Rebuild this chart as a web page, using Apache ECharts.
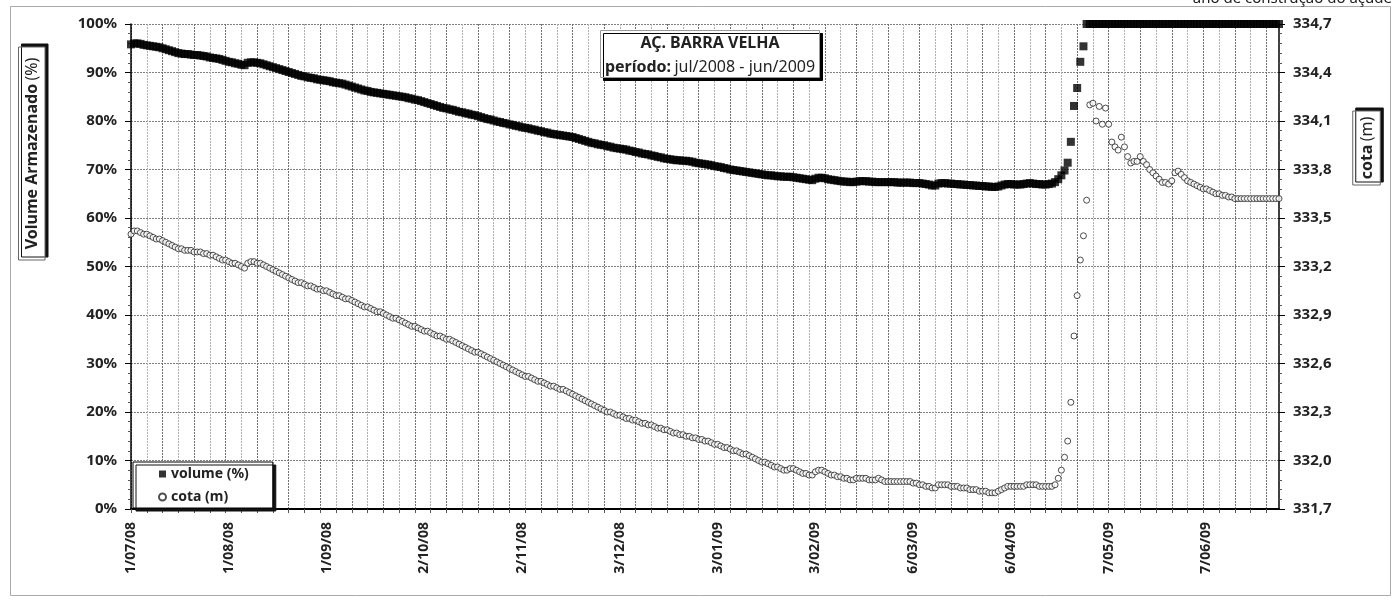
<!DOCTYPE html>
<html>
<head>
<meta charset="utf-8">
<title>AÇ. BARRA VELHA</title>
<script src="https://cdn.jsdelivr.net/npm/echarts@6/dist/echarts.min.js"></script>
<style>
    html, body {margin: 0; padding: 0; background: #fff;}
    #echartdiv {width: 1396px; height: 601px;}
</style>
</head>
<body>
<div id="echartdiv"></div>
<script>
// leituras diarias 1/07/2008 .. 30/06/2009 (365 dias)
var dt_start = [2008, 6, 1];

// cota (m)
var pCota = [
    333.40, 333.42, 333.42, 333.41, 333.40, 333.40, 333.39, 333.38, 333.37, 333.37,
    333.36, 333.35, 333.34, 333.33, 333.32, 333.31, 333.31, 333.30, 333.30, 333.30,
    333.29, 333.29, 333.29, 333.28, 333.28, 333.27, 333.27, 333.26, 333.25, 333.24,
    333.24, 333.23, 333.22, 333.22, 333.21, 333.20, 333.19, 333.22, 333.23, 333.23,
    333.22, 333.22, 333.21, 333.20, 333.19, 333.18, 333.17, 333.16, 333.15, 333.14,
    333.13, 333.12, 333.11, 333.10, 333.10, 333.09, 333.08, 333.08, 333.07, 333.06,
    333.06, 333.05, 333.05, 333.04, 333.03, 333.02, 333.02, 333.01, 333.00, 333.00,
    332.99, 332.98, 332.97, 332.96, 332.95, 332.95, 332.94, 332.93, 332.92, 332.92,
    332.91, 332.90, 332.89, 332.88, 332.88, 332.87, 332.86, 332.85, 332.84, 332.83,
    332.83, 332.82, 332.81, 332.80, 332.80, 332.79, 332.78, 332.77, 332.77, 332.76,
    332.75, 332.75, 332.74, 332.73, 332.72, 332.71, 332.70, 332.69, 332.68, 332.67,
    332.67, 332.66, 332.65, 332.64, 332.63, 332.62, 332.61, 332.60, 332.59, 332.58,
    332.57, 332.56, 332.55, 332.54, 332.53, 332.52, 332.52, 332.51, 332.50, 332.49,
    332.49, 332.48, 332.47, 332.46, 332.46, 332.45, 332.44, 332.44, 332.43, 332.42,
    332.41, 332.40, 332.39, 332.38, 332.37, 332.36, 332.35, 332.34, 332.33, 332.32,
    332.31, 332.30, 332.30, 332.29, 332.28, 332.28, 332.27, 332.26, 332.26, 332.25,
    332.25, 332.24, 332.23, 332.23, 332.22, 332.22, 332.21, 332.20, 332.20, 332.19,
    332.19, 332.18, 332.17, 332.17, 332.16, 332.16, 332.15, 332.15, 332.14, 332.14,
    332.13, 332.13, 332.12, 332.12, 332.11, 332.10, 332.10, 332.09, 332.08, 332.08,
    332.07, 332.06, 332.06, 332.05, 332.04, 332.04, 332.03, 332.02, 332.01, 332.00,
    331.99, 331.99, 331.98, 331.97, 331.96, 331.96, 331.95, 331.94, 331.94, 331.95,
    331.95, 331.94, 331.93, 331.92, 331.92, 331.91, 331.91, 331.93, 331.94, 331.94,
    331.93, 331.92, 331.91, 331.91, 331.90, 331.90, 331.89, 331.89, 331.88, 331.88,
    331.89, 331.89, 331.89, 331.89, 331.88, 331.88, 331.88, 331.89, 331.88, 331.87,
    331.87, 331.87, 331.87, 331.87, 331.87, 331.87, 331.87, 331.87, 331.86, 331.86,
    331.85, 331.85, 331.84, 331.84, 331.83, 331.83, 331.85, 331.85, 331.85, 331.85,
    331.84, 331.84, 331.84, 331.83, 331.83, 331.83, 331.82, 331.82, 331.82, 331.81,
    331.81, 331.81, 331.80, 331.80, 331.80, 331.81, 331.82, 331.83, 331.84, 331.84,
    331.84, 331.84, 331.84, 331.84, 331.85, 331.85, 331.85, 331.85, 331.84, 331.84,
    331.84, 331.84, 331.84, 331.85, 331.89, 331.94, 332.02, 332.12, 332.36, 332.77,
    333.02, 333.24, 333.39, 333.61, 334.20, 334.21, 334.10, 334.19, 334.08, 334.18,
    334.08, 333.97, 333.94, 333.92, 334.00, 333.94, 333.88, 333.84, 333.85, 333.85,
    333.88, 333.85, 333.83, 333.80, 333.78, 333.76, 333.74, 333.72, 333.72, 333.71,
    333.73, 333.78, 333.79, 333.77, 333.75, 333.73, 333.72, 333.71, 333.70, 333.69,
    333.68, 333.68, 333.67, 333.66, 333.65, 333.65, 333.64, 333.64, 333.63, 333.63,
    333.62, 333.62, 333.62, 333.62, 333.62, 333.62, 333.62, 333.62, 333.62, 333.62,
    333.62, 333.62, 333.62, 333.62, 333.62
];

// volume armazenado (%)
var pVolume = [
    95.8, 96.0, 96.0, 95.9, 95.7, 95.6, 95.5, 95.4, 95.3, 95.2,
    95.0, 94.8, 94.6, 94.4, 94.2, 94.0, 93.9, 93.8, 93.8, 93.7,
    93.6, 93.6, 93.5, 93.4, 93.3, 93.1, 93.0, 92.9, 92.8, 92.6,
    92.4, 92.2, 92.1, 91.9, 91.8, 91.6, 91.5, 92.0, 92.1, 92.1,
    92.0, 91.9, 91.7, 91.5, 91.3, 91.1, 90.9, 90.7, 90.5, 90.3,
    90.1, 89.9, 89.7, 89.5, 89.3, 89.2, 89.0, 88.9, 88.8, 88.6,
    88.5, 88.4, 88.3, 88.2, 88.0, 87.9, 87.8, 87.7, 87.5, 87.3,
    87.1, 86.9, 86.7, 86.5, 86.3, 86.2, 86.0, 85.9, 85.8, 85.7,
    85.6, 85.5, 85.4, 85.3, 85.2, 85.1, 85.0, 84.9, 84.7, 84.6,
    84.4, 84.3, 84.1, 83.9, 83.7, 83.5, 83.3, 83.1, 82.9, 82.7,
    82.6, 82.4, 82.3, 82.1, 81.9, 81.8, 81.6, 81.5, 81.3, 81.2,
    81.0, 80.8, 80.6, 80.4, 80.3, 80.1, 79.9, 79.8, 79.6, 79.5,
    79.3, 79.2, 79.0, 78.9, 78.7, 78.6, 78.5, 78.3, 78.2, 78.0,
    77.9, 77.7, 77.6, 77.4, 77.3, 77.2, 77.1, 77.0, 76.9, 76.8,
    76.7, 76.5, 76.3, 76.1, 75.9, 75.7, 75.5, 75.4, 75.2, 75.1,
    75.0, 74.8, 74.7, 74.5, 74.4, 74.3, 74.2, 74.1, 73.9, 73.8,
    73.6, 73.5, 73.3, 73.2, 73.1, 72.9, 72.8, 72.6, 72.5, 72.3,
    72.2, 72.1, 72.0, 71.9, 71.9, 71.8, 71.8, 71.7, 71.6, 71.4,
    71.3, 71.2, 71.1, 71.0, 70.9, 70.7, 70.6, 70.5, 70.3, 70.2,
    70.0, 69.9, 69.8, 69.7, 69.6, 69.5, 69.4, 69.3, 69.2, 69.1,
    69.0, 68.9, 68.8, 68.8, 68.7, 68.6, 68.6, 68.5, 68.5, 68.5,
    68.4, 68.3, 68.2, 68.1, 68.0, 67.9, 67.8, 68.1, 68.3, 68.3,
    68.2, 68.0, 67.9, 67.8, 67.7, 67.6, 67.5, 67.5, 67.4, 67.4,
    67.5, 67.6, 67.6, 67.6, 67.5, 67.5, 67.4, 67.4, 67.4, 67.4,
    67.4, 67.4, 67.4, 67.3, 67.3, 67.3, 67.3, 67.3, 67.2, 67.2,
    67.2, 67.1, 67.0, 66.9, 66.7, 66.7, 67.1, 67.2, 67.2, 67.1,
    67.1, 67.0, 67.0, 66.9, 66.9, 66.8, 66.8, 66.7, 66.7, 66.6,
    66.6, 66.5, 66.5, 66.4, 66.4, 66.5, 66.7, 66.9, 67.0, 67.0,
    66.9, 66.9, 66.9, 67.0, 67.1, 67.2, 67.1, 67.0, 67.0, 66.9,
    66.9, 67.0, 67.1, 67.4, 68.0, 68.8, 69.8, 71.4, 75.7, 83.1,
    86.8, 92.2, 95.4, 100, 100, 100, 100, 100, 100, 100,
    100, 100, 100, 100, 100, 100, 100, 100, 100, 100,
    100, 100, 100, 100, 100, 100, 100, 100, 100, 100,
    100, 100, 100, 100, 100, 100, 100, 100, 100, 100,
    100, 100, 100, 100, 100, 100, 100, 100, 100, 100,
    100, 100, 100, 100, 100, 100, 100, 100, 100, 100,
    100, 100, 100, 100, 100
];

// eixos
var volMin = 0, volMax = 100, volStep = 10;
var cotaMin = 331.7, cotaMax = 334.7, cotaStep = 0.3;

var str_title = "AÇ. BARRA VELHA";
var str_periodo = "jul/2008 - jun/2009";
var str_nota = "ano de construção do açude";

var font = "'Noto Sans', sans-serif";

function make_dates(n) {
    var pName = [];
    var t0 = Date.UTC(dt_start[0], dt_start[1], dt_start[2]);
    for (var i = 0; i < n; i++) {
        var d = new Date(t0 + i * 86400000);
        var mm = d.getUTCMonth() + 1;
        pName.push(d.getUTCDate() + "/" + (mm < 10 ? "0" + mm : mm) + "/" + String(d.getUTCFullYear()).slice(2));
    }
    return pName;
}

function show_chart() {
    var pName = make_dates(pCota.length);
    var dCota = [], dVolume = [];
    for (var i = 0; i < pName.length; i++) {
        dCota.push([i, pCota[i]]);
        dVolume.push([i, pVolume[i]]);
    }

    var myChart = echarts.init(document.getElementById("echartdiv"), null, {renderer: 'canvas'});

    var option = {
        backgroundColor: '#fff',
        animation: false,
        textStyle: {fontFamily: font},
        grid: {left: 131, right: 117, top: 24, bottom: 92},
        legend: {
            left: 133,
            top: 462,
            orient: 'vertical',
            padding: [4, 24, 3, 25],
            itemWidth: 7,
            itemHeight: 7,
            itemGap: 7,
            backgroundColor: '#fff',
            borderColor: '#000',
            borderWidth: 1,
            shadowColor: '#111',
            shadowOffsetX: 3,
            shadowOffsetY: 3,
            shadowBlur: 0,
            textStyle: {fontFamily: font, fontSize: 14, fontWeight: 'bold', color: '#222', lineHeight: 16},
            data: [{name: 'volume (%)', icon: 'rect'}, {name: 'cota (m)', icon: 'circle'}]
        },
        xAxis: {
            type: 'category',
            data: pName,
            boundaryGap: false,
            axisLine: {lineStyle: {color: '#000', width: 2}},
            axisTick: {show: true, interval: 4, length: 4, lineStyle: {color: '#555'}},
            axisLabel: {
                interval: 30, rotate: 90, margin: 13,
                fontFamily: font, fontSize: 14, fontWeight: 'bold', color: '#222'
            },
            splitLine: {
                show: true, interval: 4,
                lineStyle: {color: ['#707070', '#b0b0b0'], type: [2, 1], width: 1}
            }
        },
        yAxis: [
            {
                type: 'value',
                position: 'left',
                min: volMin, max: volMax, interval: volStep,
                axisLine: {show: true, lineStyle: {color: '#000', width: 1.5}},
                axisTick: {show: true, length: 6, lineStyle: {color: '#000'}},
                minorTick: {show: true, splitNumber: 5, length: 3, lineStyle: {color: '#555'}},
                axisLabel: {
                    formatter: '{value}%', margin: 14,
                    fontFamily: font, fontSize: 15, fontWeight: 'bold', color: '#222'
                },
                splitLine: {show: true, lineStyle: {color: '#808080', type: [2, 1], width: 1}}
            },
            {
                type: 'value',
                position: 'right',
                min: cotaMin, max: cotaMax, interval: cotaStep,
                axisLine: {show: true, lineStyle: {color: '#000', width: 1.5}},
                axisTick: {show: true, length: 6, lineStyle: {color: '#000'}},
                minorTick: {show: true, splitNumber: 5, length: 3, lineStyle: {color: '#555'}},
                axisLabel: {
                    formatter: function (v) {
                        return v.toFixed(1).replace('.', ',');
                    },
                    margin: 14,
                    fontFamily: font, fontSize: 15, fontWeight: 'bold', color: '#222'
                },
                splitLine: {show: false}
            }
        ],
        series: [
            {
                name: 'cota (m)',
                type: 'scatter',
                yAxisIndex: 1,
                data: dCota,
                symbol: 'circle',
                symbolSize: 6,
                clip: false,
                itemStyle: {color: '#fff', borderColor: '#222', borderWidth: 1},
                z: 2
            },
            {
                name: 'volume (%)',
                type: 'scatter',
                yAxisIndex: 0,
                data: dVolume,
                symbol: 'rect',
                symbolSize: 8,
                clip: false,
                itemStyle: {color: '#000'},
                z: 3
            }
        ],
        graphic: [
            // moldura
            {
                type: 'rect', silent: true, z: -10,
                shape: {x: 10.5, y: 6.5, width: 1380, height: 589},
                style: {fill: null, stroke: '#aaa', lineWidth: 1}
            },
            {
                type: 'text', silent: true, x: 1392, y: 6,
                style: {text: str_nota, align: 'right', verticalAlign: 'bottom', fill: '#222', fontSize: 15, fontFamily: font}
            },
            // caixa do titulo
            {
                type: 'rect', silent: true, z: 100,
                shape: {x: 600.5, y: 30.5, width: 219, height: 47},
                style: {fill: '#fff', stroke: '#999', lineWidth: 1, shadowColor: '#000', shadowOffsetX: 3, shadowOffsetY: 3, shadowBlur: 0}
            },
            {
                type: 'text', silent: true, z: 101, x: 710, y: 55,
                style: {
                    text: '{b|' + str_title + '}\n{b|período:} {n|' + str_periodo + '}',
                    align: 'center', verticalAlign: 'middle', fill: '#222',
                    rich: {
                        b: {fontFamily: font, fontSize: 16, fontWeight: 'bold', lineHeight: 24, fill: '#222'},
                        n: {fontFamily: font, fontSize: 16, fontWeight: 'normal', lineHeight: 24, fill: '#222'}
                    }
                }
            },
            // nome eixo esquerdo
            {
                type: 'group', x: 31.75, y: 153.5, rotation: Math.PI / 2, silent: true,
                children: [
                    {
                        type: 'rect',
                        shape: {x: -106.5, y: -13.25, width: 213, height: 26.5},
                        style: {fill: '#fff', stroke: '#666', lineWidth: 1, shadowColor: '#111', shadowOffsetX: 3, shadowOffsetY: -3, shadowBlur: 0}
                    },
                    {
                        type: 'text', x: 0, y: 1,
                        style: {
                            text: '{b|Volume Armazenado} {n|(%)}',
                            align: 'center', verticalAlign: 'middle', fill: '#222',
                            rich: {
                                b: {fontFamily: font, fontSize: 16, fontWeight: 'bold', fill: '#222'},
                                n: {fontFamily: font, fontSize: 16, fontWeight: 'normal', fill: '#222'}
                            }
                        }
                    }
                ]
            },
            // nome eixo direito
            {
                type: 'group', x: 1366.5, y: 148, rotation: Math.PI / 2, silent: true,
                children: [
                    {
                        type: 'rect',
                        shape: {x: -37, y: -13.75, width: 74, height: 27.5},
                        style: {fill: '#fff', stroke: '#666', lineWidth: 1, shadowColor: '#111', shadowOffsetX: 3, shadowOffsetY: -3, shadowBlur: 0}
                    },
                    {
                        type: 'text', x: 0, y: 1,
                        style: {
                            text: '{b|cota} {n|(m)}',
                            align: 'center', verticalAlign: 'middle', fill: '#222',
                            rich: {
                                b: {fontFamily: font, fontSize: 16, fontWeight: 'bold', fill: '#222'},
                                n: {fontFamily: font, fontSize: 16, fontWeight: 'normal', fill: '#222'}
                            }
                        }
                    }
                ]
            }
        ]
    };

    myChart.setOption(option);
}

show_chart();
</script>
</body>
</html>
